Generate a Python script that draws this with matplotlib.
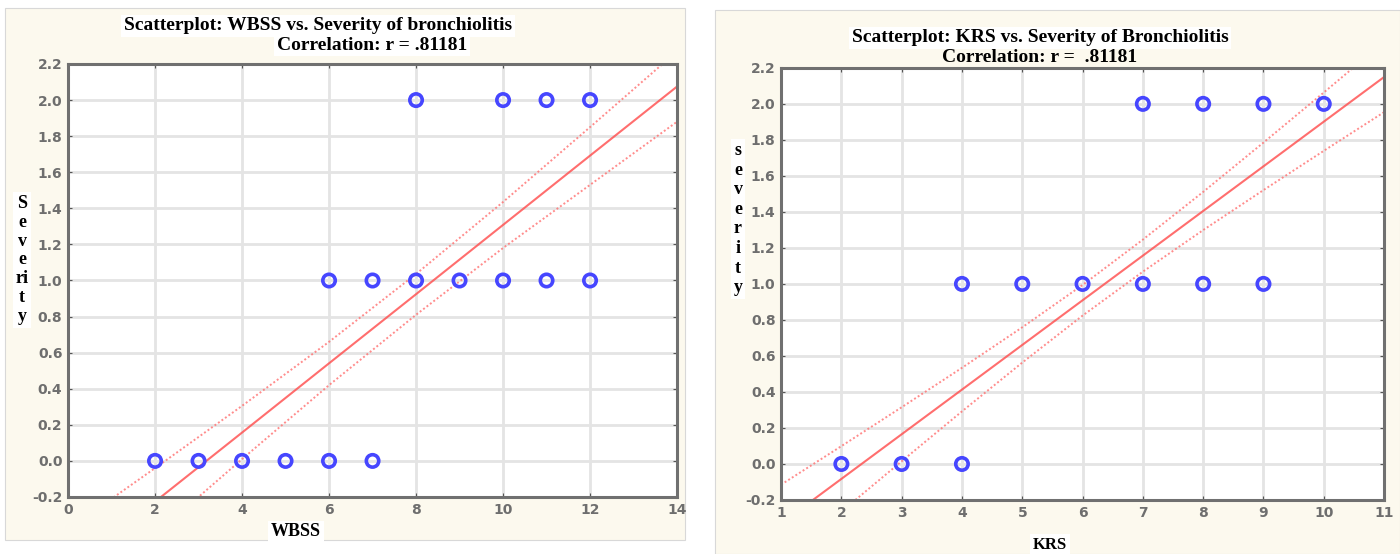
import matplotlib.pyplot as plt
from matplotlib.patches import Rectangle

# Left panel: WBSS vs severity
wbss_x = [2, 3, 4, 5, 6, 7, 6, 7, 8, 9, 10, 11, 12, 8, 10, 11, 12]
wbss_y = [0, 0, 0, 0, 0, 0, 1, 1, 1, 1, 1, 1, 1, 2, 2, 2, 2]
# fitted line and 95% band
wbss_fx = [0, 2, 4, 6, 8, 10, 12, 14]
wbss_fit = [-0.61, -0.226, 0.157, 0.541, 0.924, 1.308, 1.692, 2.075]
wbss_up = [-0.38, -0.04, 0.305, 0.66, 1.036, 1.435, 1.85, 2.27]
wbss_lo = [-0.84, -0.41, 0.01, 0.42, 0.81, 1.18, 1.53, 1.88]

# Right panel: KRS vs severity
krs_x = [2, 3, 4, 4, 5, 6, 7, 8, 9, 7, 8, 9, 10]
krs_y = [0, 0, 0, 1, 1, 1, 1, 1, 1, 2, 2, 2, 2]
krs_fx = [1, 2, 3, 4, 5, 6, 7, 8, 9, 10, 11]
krs_fit = [-0.331, -0.083, 0.165, 0.413, 0.661, 0.909, 1.157, 1.405, 1.653, 1.901, 2.149]
krs_up = [-0.115, 0.099, 0.315, 0.534, 0.759, 0.994, 1.246, 1.511, 1.785, 2.063, 2.344]
krs_lo = [-0.547, -0.265, 0.015, 0.292, 0.563, 0.824, 1.068, 1.299, 1.521, 1.739, 1.954]

yticks = [-0.2, 0.0, 0.2, 0.4, 0.6, 0.8, 1.0, 1.2, 1.4, 1.6, 1.8, 2.0, 2.2]

cream = '#fcf9ee'
serif = 'Liberation Serif'
white_box = dict(facecolor='white', edgecolor='none', pad=2)

fig = plt.figure(figsize=(14, 5.54), dpi=100)
fig.patches.append(Rectangle((0.0036, 0.025), 0.486, 0.96, transform=fig.transFigure,
                             facecolor=cream, edgecolor='#d8d8d8', lw=0.8, zorder=-1))
fig.patches.append(Rectangle((0.511, 0.0), 0.489, 0.982, transform=fig.transFigure,
                             facecolor=cream, edgecolor='#d8d8d8', lw=0.8, zorder=-1))


def panel(ax, x, y, fx, fit, up, lo, xlim, xticks):
    ax.set_facecolor('white')
    ax.grid(True, color='#e4e4e4', lw=2.0)
    ax.set_axisbelow(True)
    ax.plot(fx, up, color='#ff7070', lw=1.4, ls=(0, (1, 1.2)), alpha=0.8)
    ax.plot(fx, lo, color='#ff7070', lw=1.4, ls=(0, (1, 1.2)), alpha=0.8)
    ax.plot(fx, fit, color='#ff4a4a', lw=1.5, alpha=0.8)
    ax.scatter(x, y, s=80, facecolors='none', edgecolors='#4646ff', linewidths=2.6, zorder=3)
    ax.set_xlim(*xlim)
    ax.set_ylim(-0.2, 2.2)
    ax.set_xticks(xticks)
    ax.set_yticks(yticks)
    ax.set_yticklabels(['%.1f' % v for v in yticks])
    ax.tick_params(direction='in', length=3, color='#555555', top=True, right=True,
                   labelsize=10, labelcolor='#6e6e6e', pad=4)
    for lab in ax.get_xticklabels() + ax.get_yticklabels():
        lab.set_family('Liberation Sans Narrow')
        lab.set_weight('bold')
    for s in ax.spines.values():
        s.set_color('#707070')
        s.set_linewidth(2.2)


ax1 = fig.add_axes([0.0486, 0.1029, 0.435, 0.7816])
panel(ax1, wbss_x, wbss_y, wbss_fx, wbss_fit, wbss_up, wbss_lo, (0, 14), range(0, 15, 2))
ax2 = fig.add_axes([0.5579, 0.0975, 0.4307, 0.78])
panel(ax2, krs_x, krs_y, krs_fx, krs_fit, krs_up, krs_lo, (1, 11), range(1, 12))

# titles
fig.text(318 / 1400, 1 - 26 / 554, 'Scatterplot: WBSS vs. Severity of bronchiolitis',
         family=serif, weight='bold', fontsize=14, ha='center', va='center', bbox=white_box)
fig.text(372 / 1400, 1 - 45 / 554, 'Correlation: r = .81181',
         family=serif, weight='bold', fontsize=14, ha='center', va='center', bbox=white_box)
fig.text(1040 / 1400, 1 - 38 / 554, 'Scatterplot: KRS vs. Severity of Bronchiolitis',
         family=serif, weight='bold', fontsize=14, ha='center', va='center', bbox=white_box)
fig.text(1040 / 1400, 1 - 58 / 554, 'Correlation: r =  .81181',
         family=serif, weight='bold', fontsize=14, ha='center', va='center')

# axis labels
fig.text(22 / 1400, 1 - 260 / 554, 'S\ne\nv\ne\nri\nt\ny', family=serif, weight='bold',
         fontsize=13, ha='center', va='center', linespacing=1.15, bbox=white_box)
fig.text(738 / 1400, 1 - 219 / 554, 's\ne\nv\ne\nr\ni\nt\ny', family=serif, weight='bold',
         fontsize=13, ha='center', va='center', linespacing=1.2, bbox=white_box)
fig.text(296 / 1400, 1 - 532 / 554, 'WBSS', family=serif, weight='bold',
         fontsize=13, ha='center', va='center', bbox=white_box)
fig.text(1050 / 1400, 1 - 545 / 554, 'KRS', family=serif, weight='bold',
         fontsize=12, ha='center', va='center', bbox=white_box)

fig.savefig('out.png', dpi=100)
